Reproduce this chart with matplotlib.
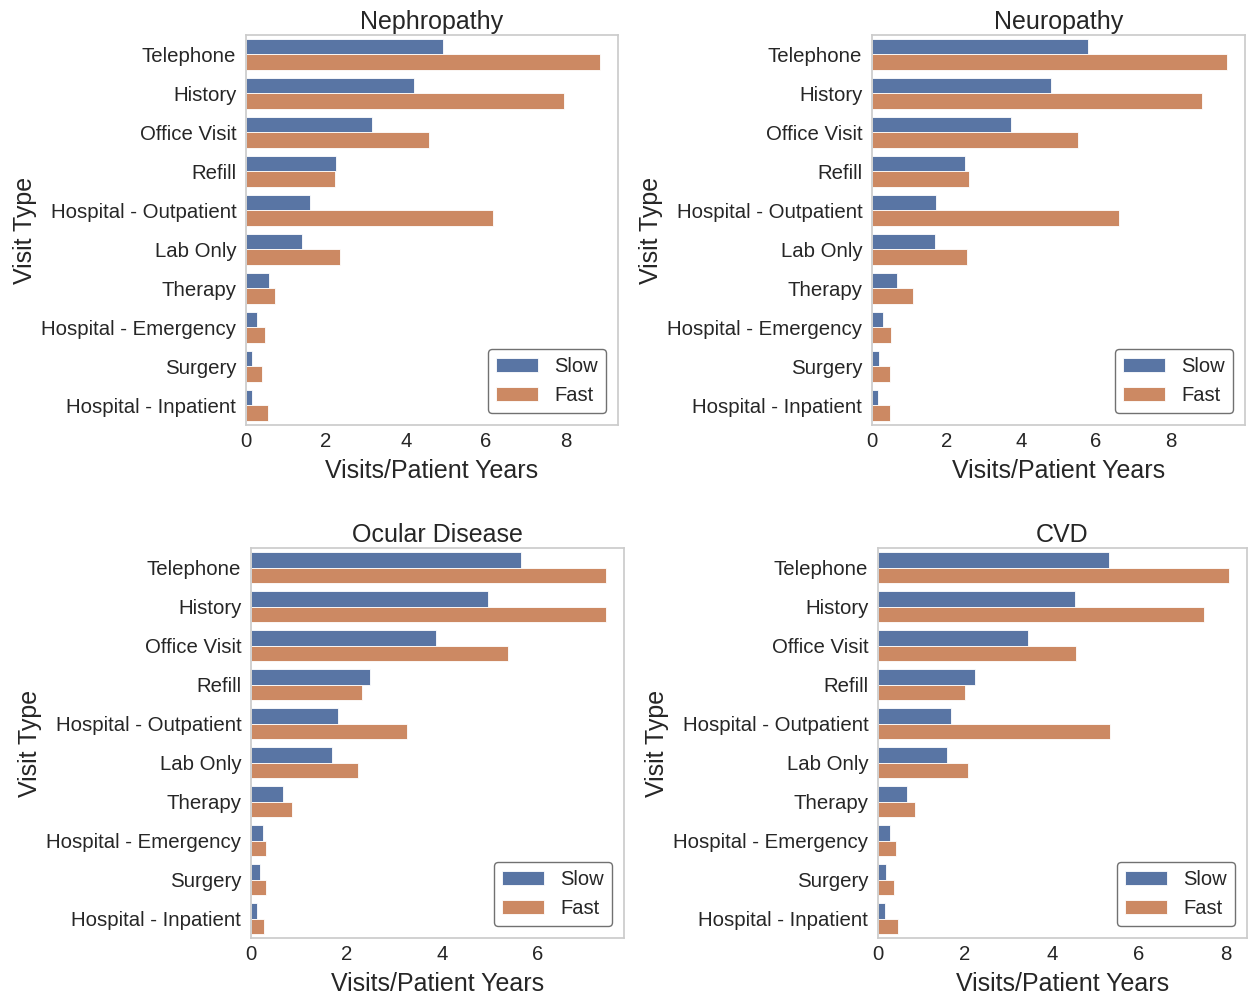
import matplotlib
matplotlib.use("Agg")
import matplotlib.pyplot as plt
import numpy as np
import pandas as pd
import seaborn as sns

visit_types = ['Telephone', 'History', 'Office Visit', 'Refill', 'Hospital - Outpatient',
               'Lab Only', 'Therapy', 'Hospital - Emergency', 'Surgery', 'Hospital - Inpatient']

# visits per patient year
nephro_slow = [4.92, 4.21, 3.16, 2.25, 1.60, 1.40, 0.57, 0.28, 0.16, 0.15]
nephro_fast = [8.87, 7.96, 4.57, 2.23, 6.19, 2.35, 0.72, 0.48, 0.41, 0.56]
neuro_slow = [5.78, 4.80, 3.71, 2.50, 1.71, 1.69, 0.68, 0.30, 0.20, 0.15]
neuro_fast = [9.51, 8.83, 5.51, 2.61, 6.62, 2.54, 1.10, 0.51, 0.49, 0.47]
ocular_slow = [5.65, 4.96, 3.86, 2.49, 1.81, 1.69, 0.67, 0.26, 0.18, 0.13]
ocular_fast = [7.42, 7.43, 5.37, 2.32, 3.27, 2.23, 0.85, 0.32, 0.32, 0.28]
cvd_slow = [5.30, 4.52, 3.44, 2.23, 1.68, 1.58, 0.66, 0.28, 0.18, 0.17]
cvd_fast = [8.08, 7.50, 4.56, 1.99, 5.33, 2.08, 0.86, 0.42, 0.37, 0.46]

panels = [('Nephropathy', nephro_slow, nephro_fast),
          ('Neuropathy', neuro_slow, neuro_fast),
          ('Ocular Disease', ocular_slow, ocular_fast),
          ('CVD', cvd_slow, cvd_fast)]

sns.set_theme(style='white')
plt.rcParams['font.family'] = ['Liberation Sans', 'DejaVu Sans']
plt.rcParams['text.color'] = '.15'
plt.rcParams['axes.labelcolor'] = '.15'
plt.rcParams['xtick.color'] = '.15'
plt.rcParams['ytick.color'] = '.15'

W, H = 1248, 996
fig = plt.figure(figsize=(W / 100, H / 100), dpi=100)

# axes boxes in pixels: left, top, right, bottom
boxes = [(246, 35, 618, 425), (872, 35, 1245, 425),
         (251, 548, 624, 938), (878, 548, 1247, 938)]

for (title, slow, fast), (l, t, r, b) in zip(panels, boxes):
    ax = fig.add_axes([l / W, 1 - b / H, (r - l) / W, (b - t) / H])
    df = pd.DataFrame({
        'visit': visit_types * 2,
        'rate': slow + fast,
        'group': ['Slow'] * len(slow) + ['Fast'] * len(fast),
    })
    sns.barplot(data=df, x='rate', y='visit', hue='group', orient='h',
                order=visit_types, hue_order=['Slow', 'Fast'],
                errorbar=None, ax=ax, edgecolor='white', linewidth=0.6)
    ax.set_title(title, fontsize=18, pad=4)
    ax.set_xlabel('Visits/Patient Years', fontsize=18, labelpad=6)
    ax.set_ylabel('Visit Type', fontsize=18, labelpad=3)
    ax.tick_params(axis='both', labelsize=14.7, length=0)
    ax.tick_params(axis='y', pad=7)
    ax.tick_params(axis='x', pad=5)
    handles, labels = ax.get_legend_handles_labels()
    leg = ax.legend(handles, labels, loc='lower right', fontsize=14.5,
                    frameon=True, handlelength=2.1, borderaxespad=0.6)
    leg.get_frame().set_edgecolor('0.3')
    for s in ax.spines.values():
        s.set_color('.8')

fig.savefig('out.png', dpi=100)
